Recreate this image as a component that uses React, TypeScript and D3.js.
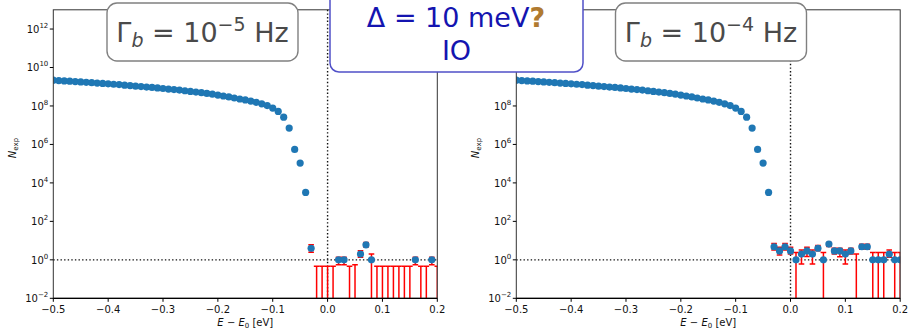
import React, { useEffect } from 'react';
import * as d3 from 'd3';

const W = 908;
const H = 329;

// Expected spectrum (bin centre energies in eV, counts)
const curveE = [-0.5, -0.49, -0.48, -0.47, -0.46, -0.45, -0.44, -0.43, -0.42, -0.41, -0.4, -0.39, -0.38, -0.37, -0.36, -0.35, -0.34, -0.33, -0.32, -0.31, -0.3, -0.29, -0.28, -0.27, -0.26, -0.25, -0.24, -0.23, -0.22, -0.21, -0.2, -0.19, -0.18, -0.17, -0.16, -0.15, -0.14, -0.13, -0.12, -0.11, -0.1, -0.09, -0.08, -0.07, -0.06, -0.05, -0.04];
const curveN = [2.19e9, 2.09e9, 2.0e9, 1.95e9, 1.86e9, 1.78e9, 1.7e9, 1.62e9, 1.55e9, 1.48e9, 1.41e9, 1.35e9, 1.29e9, 1.2e9, 1.15e9, 1.07e9, 1.02e9, 9.6e8, 9.2e8, 8.7e8, 8.1e8, 7.6e8, 7.1e8, 6.7e8, 6.2e8, 5.7e8, 5.3e8, 4.9e8, 4.5e8, 4.1e8, 3.7e8, 3.3e8, 2.95e8, 2.6e8, 2.3e8, 2.05e8, 1.8e8, 1.55e8, 1.3e8, 1.05e8, 7.8e7, 5.2e7, 2.6e7, 7.1e6, 5.5e5, 1.07e5, 3.2e3];

// Endpoint region bins
const tailE = [-0.03, -0.02, -0.01, 0.0, 0.01, 0.02, 0.03, 0.04, 0.05, 0.06, 0.07, 0.08, 0.09, 0.1, 0.11, 0.12, 0.13, 0.14, 0.15, 0.16, 0.17, 0.18, 0.19, 0.2];

// Gamma_b = 1e-5 Hz
const tailN5 = [4, 0, 0, 0, 0, 1, 1, 0, 0, 2, 6, 1, 0, 0, 0, 0, 0, 0, 0, 1, 0, 0, 1, 0];
const tailLo5 = [2.5, 0, 0, 0, 0, 0.56, 0.56, 0, 0, 1.35, 4.6, 0, 0, 0, 0, 0, 0, 0, 0, 0.56, 0, 0, 0.56, 0];
const tailHi5 = [6, 0.46, 0.46, 0.46, 0.46, 1.35, 1.35, 0.46, 0.56, 3, 8, 2, 0.46, 0.46, 0.46, 0.46, 0.46, 0.46, 0.46, 1.35, 0.46, 0.46, 1.35, 0.46];

// Gamma_b = 1e-4 Hz
const tailN4 = [4.8, 2.9, 4.8, 2.9, 1, 2, 2.9, 2, 4, 1, 6.6, 2.9, 2.9, 2, 2.9, 0, 4.8, 4.8, 1, 1, 1, 2, 1, 1];
const tailLo4 = [3.2, 1.8, 3.2, 2.0, 0, 0.6, 1.5, 0.6, 3, 0, 5, 2, 1.45, 0.6, 2, 0, 3.5, 3.5, 0, 0, 0, 1.35, 0, 0];
const tailHi4 = [7, 4.5, 7, 4.5, 2.4, 3.2, 4.5, 3.2, 5.5, 2.4, 8, 4, 4, 3.2, 4, 2.0, 6.5, 6.5, 2.4, 2.4, 2.4, 3.2, 2.4, 2.4];

const xTicks = [-0.5, -0.4, -0.3, -0.2, -0.1, 0.0, 0.1, 0.2];
const xTickLabels = ['\u22120.5', '\u22120.4', '\u22120.3', '\u22120.2', '\u22120.1', '0.0', '0.1', '0.2'];
const yTickExps = [-2, 0, 2, 4, 6, 8, 10, 12];

const FONT = 'DejaVu Sans';
const BLUE = '#1f77b4';

type PanelProps = {
  id: string;
  x0: number;
  x1: number;
  tN: number[];
  tLo: number[];
  tHi: number[];
  maxLabelExp: number;
};

const TOP = 9.8;
const BOTTOM = 298.3;

function Panel({ id, x0, x1, tN, tLo, tHi, maxLabelExp }: PanelProps) {
  const x = d3.scaleLinear().domain([-0.5, 0.2]).range([x0, x1]);
  const y = d3.scaleLog().domain([1e-2, 1e13]).range([BOTTOM, TOP]);
  const cap = 2.8;
  const fmtExp = (e: number) => (e < 0 ? '\u2212' + Math.abs(e) : String(e));
  return (
    <g>
      <defs>
        <clipPath id={id}>
          <rect x={x0} y={TOP} width={x1 - x0} height={BOTTOM - TOP} />
        </clipPath>
      </defs>
      {/* reference lines */}
      <line x1={x0} x2={x1} y1={y(1)} y2={y(1)} stroke="#111" strokeWidth={1.4} strokeDasharray="1.4 2.2" />
      <line x1={x(0)} x2={x(0)} y1={TOP} y2={BOTTOM} stroke="#111" strokeWidth={1.4} strokeDasharray="1.4 2.2" />
      <g clipPath={`url(#${id})`}>
        {/* error bars */}
        {tailE.map((e, i) => {
          const lo = tLo[i] > 0 ? y(tLo[i]) : BOTTOM + 20;
          const hi = y(tHi[i]);
          const cx = x(e);
          return (
            <g key={'eb' + i} stroke="#ff0000" strokeWidth={1.5}>
              <line x1={cx} x2={cx} y1={hi} y2={lo} />
              <line x1={cx - cap} x2={cx + cap} y1={hi} y2={hi} />
              {tLo[i] > 0 && <line x1={cx - cap} x2={cx + cap} y1={lo} y2={lo} />}
            </g>
          );
        })}
        {/* expected spectrum */}
        {curveE.map((e, i) => (
          <circle key={'c' + i} cx={x(e)} cy={y(curveN[i])} r={3.6} fill={BLUE} />
        ))}
        {tailE.map((e, i) =>
          tN[i] > 0 ? <circle key={'t' + i} cx={x(e)} cy={y(tN[i])} r={3.6} fill={BLUE} /> : null
        )}
      </g>
      {/* spines */}
      <rect x={x0} y={TOP} width={x1 - x0} height={BOTTOM - TOP} fill="none" stroke="#333" strokeWidth={1} />
      <line x1={x0} x2={x1} y1={BOTTOM} y2={BOTTOM} stroke="#000" strokeWidth={1.2} />
      {/* x ticks */}
      {xTicks.map((t, i) => (
        <g key={'xt' + i}>
          <line x1={x(t)} x2={x(t)} y1={BOTTOM} y2={BOTTOM + 3.5} stroke="#000" strokeWidth={1} />
          <text x={x(t)} y={BOTTOM + 14.3} textAnchor="middle" fontSize={10} fontFamily={FONT} fill="#111">
            {xTickLabels[i]}
          </text>
        </g>
      ))}
      {/* y ticks */}
      {yTickExps.map((e) => {
        const yy = y(Math.pow(10, e));
        return (
          <g key={'yt' + e}>
            <line x1={x0 - 3.5} x2={x0} y1={yy} y2={yy} stroke="#000" strokeWidth={1} />
            {e <= maxLabelExp && (
              <text x={x0 - 5} y={yy + 3.8} textAnchor="end" fontFamily={FONT} fill="#111" fontSize={10}>
                <tspan>10</tspan>
                <tspan fontSize={7} dy={-5}>{fmtExp(e)}</tspan>
              </text>
            )}
          </g>
        );
      })}
      {/* axis labels */}
      <text x={(x0 + x1) / 2} y={325.5} textAnchor="middle" fontFamily={FONT} fontSize={10} fill="#111">
        <tspan fontStyle="italic">E</tspan>
        <tspan> {'\u2212'} </tspan>
        <tspan fontStyle="italic">E</tspan>
        <tspan fontSize={7} dy={2}>0</tspan>
        <tspan dy={-2}> [eV]</tspan>
      </text>
      <text transform={`translate(${x0 - 37.5},148) rotate(-90)`} textAnchor="middle" fontFamily={FONT} fontSize={10} fill="#111">
        <tspan fontStyle="italic">N</tspan>
        <tspan fontSize={7} dy={2}>exp</tspan>
      </text>
    </g>
  );
}

function TitleBox({ cx, exp }: { cx: number; exp: string }) {
  const w = 191;
  return (
    <g>
      <rect x={cx - w / 2} y={3} width={w} height={58} rx={10} ry={10} fill="#fff" stroke="#808080" strokeWidth={1.4} />
      <text x={cx} y={42} textAnchor="middle" fontFamily={FONT} fontSize={27} fill="#4a4a4a">
        <tspan>{'\u0393'}</tspan>
        <tspan fontStyle="italic" fontSize={19} dy={5}>b</tspan>
        <tspan dy={-5}>{' = 10'}</tspan>
        <tspan fontSize={19} dy={-11}>{exp}</tspan>
        <tspan dy={11}>{' Hz'}</tspan>
      </text>
    </g>
  );
}

export default function App() {
  useEffect(() => {
    document.body.style.margin = '0';
  }, []);
  return (
    <svg width={W} height={H} viewBox={`0 0 ${W} ${H}`} style={{ position: 'absolute', left: 0, top: 0, background: '#fff' }}>
      <rect x={0} y={0} width={W} height={H} fill="#fff" />
      <Panel id="clipL" x0={53.3} x1={437.3} tN={tailN5} tLo={tailLo5} tHi={tailHi5} maxLabelExp={12} />
      <Panel id="clipR" x0={516.3} x1={900.2} tN={tailN4} tLo={tailLo4} tHi={tailHi4} maxLabelExp={8} />
      <TitleBox cx={202.5} exp={'\u22125'} />
      <TitleBox cx={711} exp={'\u22124'} />
      <g>
        <rect x={330} y={-12} width={253} height={84} rx={9} ry={9} fill="#fff" stroke="#5050c8" strokeWidth={1.5} />
        <text x={456} y={27} textAnchor="middle" fontFamily={FONT} fontSize={27} fill="#1414b0">
          <tspan>{'\u0394 = 10 meV'}</tspan>
          <tspan fill="#b07a30" fontWeight="bold">?</tspan>
        </text>
        <text x={456.5} y={60} textAnchor="middle" fontFamily={FONT} fontSize={27} fill="#1414b0">
          IO
        </text>
      </g>
    </svg>
  );
}
